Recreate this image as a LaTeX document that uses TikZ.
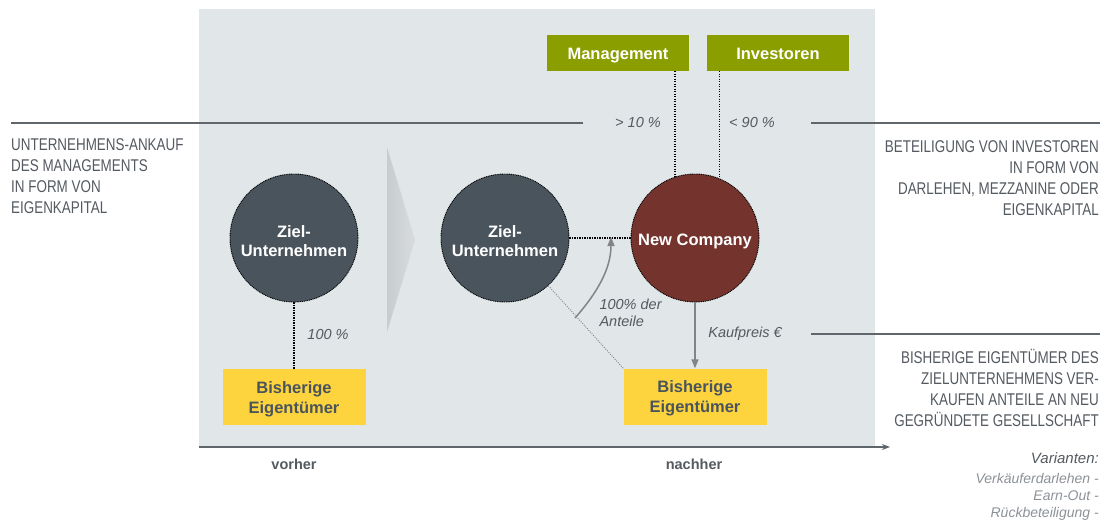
\documentclass[tikz,border=0pt]{standalone}
\usepackage{fontspec}
\setmainfont{Liberation Sans}
\newfontfamily\condfont[FakeStretch=0.79]{Liberation Sans}
\usetikzlibrary{arrows.meta}

\definecolor{panelbg}{RGB}{225,230,232}
\definecolor{targetc}{RGB}{74,84,92}
\definecolor{newco}{RGB}{116,51,45}
\definecolor{oliveg}{RGB}{138,158,0}
\definecolor{ownery}{RGB}{253,212,62}
\definecolor{textg}{RGB}{84,90,96}
\definecolor{rulec}{RGB}{95,102,108}
\definecolor{arrowg}{RGB}{130,132,134}
\definecolor{lightt}{RGB}{140,145,150}
\definecolor{chevl}{RGB}{200,204,206}
\definecolor{chevr}{RGB}{216,220,222}

% invisible strut that lowers the first text line a little
\newcommand{\liftline}[1]{\rule{0pt}{#1}}

\tikzset{
  circnode/.style={circle, minimum size=128pt, inner sep=0pt, draw=black,
    line width=0.9pt, dash pattern=on 1pt off 0.8pt, text=white, align=center,
    font=\bfseries\fontsize{16.5}{19}\selectfont},
  ownerbox/.style={rectangle, fill=ownery, minimum width=143pt, minimum height=56pt,
    inner sep=0pt, text=targetc, align=center, font=\bfseries\fontsize{16.5}{20}\selectfont},
  partybox/.style={rectangle, fill=oliveg, minimum width=142pt, minimum height=36pt,
    inner sep=0pt, text height=14pt, text depth=1.5pt, text=white,
    font=\bfseries\fontsize{16.5}{20}\selectfont},
  dotline/.style={draw=black, line width=1.2pt, dash pattern=on 1.1pt off 1.4pt},
  thindots/.style={draw=arrowg, line width=0.9pt, dash pattern=on 1pt off 1.3pt},
  grayarrow/.style={draw=arrowg, line width=1.5pt, -{Triangle[length=9pt,width=7pt]}},
  rule/.style={draw=rulec, line width=1.8pt},
  pctlabel/.style={text=textg, font=\itshape\fontsize{14.5}{17}\selectfont},
  sidetext/.style={text=textg, inner sep=0pt, font=\condfont\fontsize{17}{21}\selectfont},
  phase/.style={text=textg, font=\bfseries\fontsize{14.5}{17}\selectfont}
}

\begin{document}
\begin{tikzpicture}[x=1pt,y=-1pt]
\useasboundingbox (0,0) rectangle (1101,522);

% grey backdrop of the transaction area
\fill[panelbg] (199,9) rectangle (875,447);

% shaded chevron between "before" and "after"
\shade[left color=chevl, right color=chevr] (387,147) -- (415,240) -- (387,332) -- cycle;

% horizontal rules next to the explanations
\coordinate (l1a) at (11,123);
\coordinate (l1b) at (583,123);
\coordinate (r1a) at (811,123);
\coordinate (r1b) at (1100,123);
\coordinate (r2a) at (811,334);
\coordinate (r2b) at (1100,334);
\draw[rule] (l1a) -- (l1b);
\draw[rule] (r1a) -- (r1b);
\draw[rule] (r2a) -- (r2b);

% time axis
\coordinate (ax0) at (199,447);
\coordinate (ax1) at (890,447);
\draw[draw=rulec, line width=1.5pt, -{Stealth[length=8pt,width=6pt]}] (ax0) -- (ax1);
\node[phase] (before) at (294,464) {vorher};
\node[phase] (after) at (694,464) {nachher};

% before
\node[circnode, fill=targetc] (z1) at (294,238) {\liftline{19pt}Ziel-\\Unternehmen};
\node[ownerbox] (b1) at (294,397) {\liftline{16pt}Bisherige\\Eigentümer};
\draw[dotline] (z1) -- (b1);
\node[pctlabel] (p100) at (328,335) {100 \%};

% after
\node[circnode, fill=targetc] (z2) at (505,238) {\liftline{19pt}Ziel-\\Unternehmen};
\node[circnode, fill=newco] (nc) at (695,238) {\liftline{18pt}New Company};
\node[ownerbox] (b2) at (695,396.5) {\liftline{16pt}Bisherige\\Eigentümer};
\node[partybox] (mg) at (618,53) {Management};
\node[partybox] (inv) at (778,53) {Investoren};

\draw[dotline] (mg.south -| nc.108) -- (nc.108);
\draw[dotline] (inv.south -| nc.68) -- (nc.68);
\draw[dotline] (z2) -- (nc);
\draw[thindots] (z2) -- (b2.north west);
\draw[grayarrow] (nc) -- (b2);

\coordinate (sharesA) at (575,318);
\coordinate (sharesB) at (611,237);
\draw[grayarrow] (sharesA) .. controls (598,292) and (611,268) .. (sharesB);

\node[pctlabel] (gt10) at (638,123) {> 10 \%};
\node[pctlabel] (lt90) at (752,123) {< 90 \%};
\node[pctlabel, anchor=west, align=left, font=\itshape\fontsize{14.5}{16.5}\selectfont] (shares) at (596,313) {100\% der\\Anteile};
\node[pctlabel] (price) at (745,334) {Kaufpreis €};

% explanations
\node[sidetext, anchor=north west, align=left] (leftnote) at (11,138.5)
  {UNTERNEHMENS-ANKAUF\\DES MANAGEMENTS\\IN FORM VON\\EIGENKAPITAL};
\node[sidetext, anchor=north east, align=right] (invnote) at (1099,140)
  {BETEILIGUNG VON INVESTOREN\\IN FORM VON\\DARLEHEN, MEZZANINE ODER\\EIGENKAPITAL};
\node[sidetext, anchor=north east, align=right] (sellnote) at (1099,349)
  {BISHERIGE EIGENTÜMER DES\\ZIELUNTERNEHMENS VER-\\KAUFEN ANTEILE AN NEU\\GEGRÜNDETE GESELLSCHAFT};
\node[anchor=east, inner sep=0pt, text=textg, font=\itshape\fontsize{15}{17}\selectfont] (vartitle) at (1099,458) {Varianten:};
\node[anchor=north east, inner sep=0pt, align=right, text=lightt, font=\itshape\fontsize{14}{17}\selectfont] (varlist) at (1099,473)
  {Verkäuferdarlehen -\\Earn-Out -\\Rückbeteiligung -};
\end{tikzpicture}
\end{document}
